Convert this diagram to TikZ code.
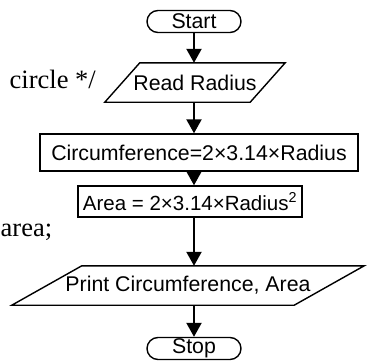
\documentclass[tikz,border=0pt]{standalone}
\usepackage{fontspec}
\setmainfont{Liberation Serif}
\newfontfamily\flowfont{Liberation Sans}
\usetikzlibrary{arrows.meta}

\tikzset{
  boxtext/.style={font=\flowfont\fontsize{21.3}{24}\selectfont, inner sep=0pt, anchor=center},
  terminal/.style={boxtext, draw, line width=1.4pt, rounded corners=11pt,
    minimum width=94pt, minimum height=22pt},
  process/.style={boxtext, draw, line width=1.4pt},
  iobox/.style={boxtext},
  outline/.style={line width=1.4pt, line join=miter},
  flowarrow/.style={line width=2.2pt, -{Triangle[width=15pt,length=14pt]}},
  codetext/.style={font=\fontsize{26.5}{30}\selectfont, inner sep=0pt},
}

\begin{document}
\begin{tikzpicture}[x=1pt,y=-1pt]
  \useasboundingbox (0,0) rectangle (370,364);
  \clip (0,0) rectangle (370,364);

  % code fragments beside the chart
  \node[codetext, anchor=base east] (c1) at (96,88) {circle */};
  \node[codetext, anchor=base west] (c2) at (0.5,236) {area;};

  % flowchart nodes
  \node[terminal] (start) at (194,21.5) {Start};
  \node[iobox, minimum width=180pt, minimum height=39pt] (read) at (195,82.5) {Read Radius};
  \node[process, minimum width=318pt, minimum height=37pt] (circ) at (199,152.5) {Circumference=2×3.14×Radius};
  \node[process, minimum width=224pt, minimum height=31pt,
        font=\flowfont\fontsize{20.5}{24}\selectfont] (area) at (190,201.5) {Area = 2×3.14×Radius\textsuperscript{2}};
  \node[iobox, minimum width=352pt, minimum height=39pt] (print) at (188,285.5) {Print Circumference, Area};
  \node[terminal] (stop) at (194,348.5) {Stop};

  % parallelogram outlines for the input/output steps
  \draw[outline] ([xshift=35pt]read.north west) -- (read.north east)
    -- ([xshift=-35pt]read.south east) -- (read.south west) -- cycle;
  \draw[outline] ([xshift=70pt]print.north west) -- (print.north east)
    -- ([xshift=-70pt]print.south east) -- (print.south west) -- cycle;

  % connectors
  \draw[flowarrow] (start) -- (start |- read.north);
  \draw[flowarrow] (start |- read.south) -- (start |- circ.north);
  \draw[flowarrow] (start |- circ.south) -- (start |- area.north);
  \draw[flowarrow] (start |- area.south) -- (start |- print.north);
  \draw[flowarrow] (start |- print.south) -- (stop);
\end{tikzpicture}
\end{document}
